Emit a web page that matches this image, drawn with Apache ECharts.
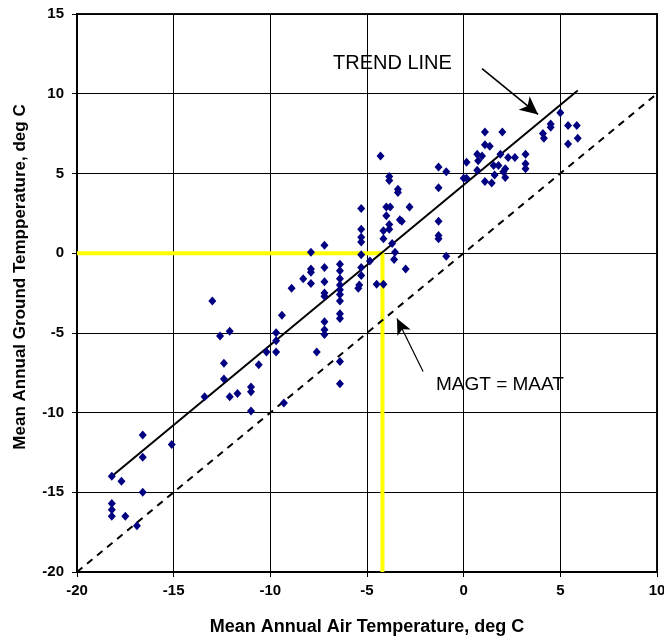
<!DOCTYPE html>
<html>
<head>
<meta charset="utf-8">
<script src="https://cdn.jsdelivr.net/npm/echarts@6/dist/echarts.min.js"></script>
<style>
  html, body { margin: 0; padding: 0; background: #fff; }
  #chart { width: 664px; height: 639px; }
</style>
</head>
<body>
<div id="chart"></div>
<script>
// air temperature (x) / ground temperature (y) pairs, deg C
const maat = [
  -18.2, -17.7, -16.6, -16.6, -16.6, -15.1, -18.2, -18.2, -18.2, -17.5, -16.9,
  -13.0, -12.6, -12.1, -12.4, -12.4, -13.4, -12.1, -11.7, -11.0, -11.0, -11.0,
  -10.6, -10.2, -9.7, -9.7, -9.7, -9.4, -9.3, -8.9, -8.3, -7.9, -7.9, -7.9, -7.9, -7.6,
  -7.2, -7.2, -7.2, -7.2, -7.2, -7.2, -7.2, -7.2,
  -6.4, -6.4, -6.4, -6.4, -6.4, -6.4, -6.4, -6.4, -6.4, -6.4, -6.4,
  -5.4, -5.45, -5.3, -5.3, -5.3, -5.3, -5.3, -5.3, -5.3, -4.85, -4.5, -4.15,
  -4.3, -3.85, -3.85, -3.4, -3.4, -4.0, -3.8, -4.0, -2.8, -3.3, -3.2, -3.85, -4.15, -3.85,
  -4.15, -3.55, -3.6, -3.0, -3.7,
  -1.3, -1.3, -1.3, -1.3, -0.9, -1.3, -0.9, 0.0, 0.15, 0.15,
  5.0, 4.5, 4.5, 4.1, 4.15, 5.4, 5.85, 5.4, 5.9, 1.1, 2.0, 1.1, 1.35, 0.7, 0.95, 0.75,
  1.9, 2.3, 2.65, 3.2, 3.2, 3.2, 1.55, 1.8, 2.15, 2.05, 0.7, 1.6, 2.15, 1.1, 1.45
];
const magt = [
  -14.0, -14.3, -11.4, -12.8, -15.0, -12.0, -15.7, -16.1, -16.5, -16.5, -17.1,
  -3.0, -5.2, -4.9, -6.9, -7.9, -9.0, -9.0, -8.8, -8.4, -8.7, -9.9,
  -7.0, -6.2, -6.2, -5.0, -5.5, -3.9, -9.4, -2.2, -1.6, -1.9, -1.0, -1.2, 0.05, -6.2,
  0.5, -0.9, -1.8, -2.5, -2.7, -4.3, -4.8, -5.1,
  -0.7, -1.1, -1.6, -2.0, -2.3, -2.6, -3.0, -3.8, -4.1, -6.8, -8.2,
  -2.0, -2.2, 2.8, 1.5, 1.0, 0.7, -0.1, -0.9, -1.4, -0.5, -1.95, -1.95,
  6.1, 4.8, 4.55, 4.0, 3.8, 2.9, 2.9, 2.35, 2.9, 2.1, 2.0, 1.8, 1.4, 1.5,
  0.9, 0.05, -0.4, -1.0, 0.6,
  4.1, 2.0, 1.1, 0.9, -0.2, 5.4, 5.1, 4.7, 4.7, 5.7,
  8.8, 8.1, 7.9, 7.5, 7.2, 8.0, 8.0, 6.85, 7.2, 7.6, 7.6, 6.8, 6.7, 6.2, 6.1, 5.8,
  6.2, 6.0, 6.0, 6.2, 5.6, 5.3, 5.5, 5.5, 5.3, 5.1, 5.2, 4.9, 4.75, 4.5, 4.4
];

const trendX = [-18.2, 5.9];
const trendY = [-14.0, 10.2];
const equalX = [-20, 10];
const equalY = [-20, 10];
const markerX = -4.2;  // yellow guide: MAGT = 0

const points = maat.map((x, i) => [x, magt[i]]);

const narrow = 'Liberation Sans Narrow, Liberation Sans, Arial';
const chart = echarts.init(document.getElementById('chart'));

const option = {
  animation: false,
  backgroundColor: '#fff',
  grid: {
    left: 77, top: 14, right: 7, bottom: 67,
    outerBoundsMode: 'none', containLabel: false,
    show: true, borderColor: '#111', borderWidth: 2
  },
  xAxis: {
    type: 'value', min: -20, max: 10, interval: 5,
    name: 'Mean Annual Air Temperature, deg C',
    nameLocation: 'middle', nameGap: 46,
    nameTextStyle: { fontFamily: narrow, fontWeight: 'bold', fontSize: 18, color: '#000' },
    axisLine: { onZero: false, lineStyle: { color: '#000', width: 2 } },
    axisTick: { show: true, length: 5, lineStyle: { color: '#000' } },
    axisLabel: { fontFamily: narrow, fontWeight: 'bold', fontSize: 15, color: '#000', margin: 11 },
    splitLine: { lineStyle: { color: '#000', width: 1 } }
  },
  yAxis: {
    type: 'value', min: -20, max: 15, interval: 5,
    axisLine: { onZero: false, lineStyle: { color: '#000', width: 2 } },
    axisTick: { show: true, length: 5, lineStyle: { color: '#000' } },
    axisLabel: { fontFamily: narrow, fontWeight: 'bold', fontSize: 15, color: '#000', margin: 13 },
    splitLine: { lineStyle: { color: '#000', width: 1 } }
  },
  series: [
    {
      type: 'line', data: [[-20, 0], [markerX, 0], [markerX, -20]],
      symbol: 'none', lineStyle: { color: '#ffff00', width: 4 }, z: 2
    },
    {
      type: 'line', data: equalX.map((x, i) => [x, equalY[i]]),
      symbol: 'none', lineStyle: { color: '#000', width: 2, type: [7, 6] }, z: 3,
      markLine: {
        silent: true, symbol: ['none', 'arrow'], symbolSize: [11, 16],
        label: { show: false },
        lineStyle: { color: '#000', width: 1.2, type: 'solid' },
        data: [[{ coord: [-2.1, -7.42] }, { coord: [-3.45, -4.1] }]]
      }
    },
    {
      type: 'line', data: trendX.map((x, i) => [x, trendY[i]]),
      symbol: 'none', lineStyle: { color: '#000', width: 2 }, z: 4,
      markLine: {
        silent: true, symbol: ['none', 'arrow'], symbolSize: [13, 18],
        label: { show: false },
        lineStyle: { color: '#000', width: 1.6, type: 'solid' },
        data: [[{ coord: [0.95, 11.57] }, { coord: [3.85, 8.7] }]]
      }
    },
    {
      type: 'scatter', data: points, symbol: 'diamond', symbolSize: [8, 9],
      itemStyle: { color: '#000080', opacity: 1 }, z: 5
    }
  ],
  graphic: [
    {
      type: 'text', x: 20, y: 277, rotation: Math.PI / 2,
      style: {
        text: 'Mean Annual Ground Tempperature, deg C', fontFamily: 'Liberation Sans, Arial',
        fontWeight: 'bold', fontSize: 17, fill: '#000', align: 'center', verticalAlign: 'middle'
      }
    },
    { type: 'text', left: 333, top: 53, style: { text: 'TREND LINE', fontFamily: 'Liberation Sans', fontSize: 20, fill: '#000' } },
    { type: 'text', left: 436, top: 375, style: { text: 'MAGT = MAAT', fontFamily: 'Liberation Sans', fontSize: 19, fill: '#000' } }
  ]
};

chart.setOption(option);
</script>
</body>
</html>
